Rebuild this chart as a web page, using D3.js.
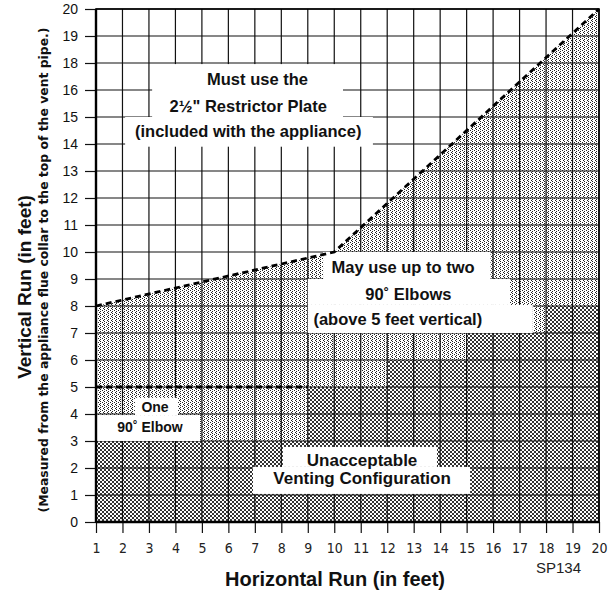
<!DOCTYPE html>
<html>
<head>
<meta charset="utf-8">
<script src="https://cdn.jsdelivr.net/npm/d3@7"></script>
<style>
  body { margin: 0; background: #fff; }
  text { font-family: 'Liberation Sans', Arial, sans-serif; }
</style>
</head>
<body>
<svg id="chart" width="614" height="600"></svg>
<script>
// x axis labels (feet)
const xTickLabels = ['1', '2', '3', '4', '5', '6', '7', '8', '9', '10',
  '11', '12', '13', '14', '15', '16', '17', '18', '19', '20'];
// y axis labels as printed on the chart (17 is skipped on the original)
const yTickLabels = ['0', '1', '2', '3', '4', '5', '6', '7', '8', '9', '10',
  '11', '12', '13', '14', '15', '16', '18', '19', '20'];

// boundaries, [horizontal run, vertical grid row]
const restrictorBoundary = [[1, 8], [10, 10], [20, 19]];
const oneElbowBoundary = [[1, 5], [9, 5]];
const unacceptableSteps = [[1, 3], [9, 5], [12, 6], [15, 7], [18, 8], [20, 8]];

const restrictorText = ['Must use the', '2\u00BD" Restrictor Plate', '(included with the appliance)'];
const twoElbowText = ['May use up to two', '90\u02DA Elbows', '(above 5 feet vertical)'];
const oneElbowText = ['One', '90\u02DA Elbow'];
const unacceptableText = ['Unacceptable', 'Venting Configuration'];

const margin = {top: 9, right: 15, bottom: 78, left: 96};
const width = 614 - margin.left - margin.right;
const height = 600 - margin.top - margin.bottom;

const svg = d3.select('#chart');

const defs = svg.append('defs');
const light = defs.append('pattern')
  .attr('id', 'light').attr('patternUnits', 'userSpaceOnUse')
  .attr('width', 4).attr('height', 4);
light.append('rect').attr('width', 4).attr('height', 4).attr('fill', '#fff');
[[0, 0], [2, 1], [0, 2], [3, 3]].forEach(p => {
  light.append('rect').attr('x', p[0]).attr('y', p[1]).attr('width', 1).attr('height', 1).attr('fill', '#222');
});

const dark = defs.append('pattern')
  .attr('id', 'dark').attr('patternUnits', 'userSpaceOnUse')
  .attr('width', 4).attr('height', 4);
dark.append('rect').attr('width', 4).attr('height', 4).attr('fill', '#fff');
dark.append('rect').attr('x', 0).attr('y', 0).attr('width', 2).attr('height', 2).attr('fill', '#333');
dark.append('rect').attr('x', 2).attr('y', 2).attr('width', 2).attr('height', 2).attr('fill', '#333');

const main = svg.append('g')
  .attr('transform', 'translate(' + margin.left + ',' + margin.top + ')');

const x = d3.scaleLinear().domain([1, 20]).range([0, width]);
const y = d3.scaleLinear().domain([0, yTickLabels.length - 1]).range([height, 0]);

// shaded regions
main.append('path')
  .datum(restrictorBoundary)
  .attr('fill', 'url(#light)')
  .attr('d', d3.area().x(d => x(d[0])).y0(y(0)).y1(d => y(d[1])));

main.append('path')
  .datum(unacceptableSteps)
  .attr('fill', 'url(#dark)')
  .attr('d', d3.area().curve(d3.curveStepAfter).x(d => x(d[0])).y0(y(0)).y1(d => y(d[1])));

// grid
main.append('g')
  .selectAll('line')
  .data(xTickLabels)
  .enter().append('line')
  .attr('x1', (d, i) => x(i + 1)).attr('x2', (d, i) => x(i + 1))
  .attr('y1', 0).attr('y2', height)
  .attr('stroke', '#111').attr('stroke-width', 1.2);

main.append('g')
  .selectAll('line')
  .data(yTickLabels)
  .enter().append('line')
  .attr('x1', 0).attr('x2', width)
  .attr('y1', (d, i) => y(i)).attr('y2', (d, i) => y(i))
  .attr('stroke', '#111').attr('stroke-width', 1.2);

// white label boxes: [x0, x1, y0, y1] in chart units
const boxes = [
  [3.12, 10.33, 15.0, 16.96], [2.1, 11.46, 13.9, 15.0],
  [9.58, 15.9, 9.0, 10.0], [9.0, 16.64, 8.04, 9.0], [9.0, 17.5, 7.0, 8.04],
  [2.47, 4.1, 3.96, 4.6], [1.04, 4.93, 3.0, 3.96],
  [8.06, 13.88, 2.04, 2.78], [6.93, 15.13, 1.04, 2.04]
];
main.append('g')
  .selectAll('rect')
  .data(boxes)
  .enter().append('rect')
  .attr('x', d => x(d[0])).attr('width', d => x(d[1]) - x(d[0]))
  .attr('y', d => y(d[3])).attr('height', d => y(d[2]) - y(d[3]))
  .attr('fill', '#fff');

// dashed boundaries
const line = d3.line().x(d => x(d[0])).y(d => y(d[1]));
[restrictorBoundary, oneElbowBoundary].forEach(b => {
  main.append('path')
    .datum(b)
    .attr('d', line)
    .attr('fill', 'none')
    .attr('stroke', '#000')
    .attr('stroke-width', 2.8)
    .attr('stroke-dasharray', '6,4');
});

// notes: text, x centre, baseline (chart units), size
const notes = [
  [restrictorText[0], 7.1, 16.19, 16.5],
  [restrictorText[1], 6.75, 15.19, 16.5],
  [restrictorText[2], 6.75, 14.27, 16.5],
  [twoElbowText[0], 12.6, 9.22, 16.5],
  [twoElbowText[1], 12.8, 8.22, 16.5],
  [twoElbowText[2], 12.4, 7.3, 16.5],
  [oneElbowText[0], 3.23, 4.07, 14],
  [oneElbowText[1], 3.04, 3.33, 14],
  [unacceptableText[0], 11.05, 2.07, 17],
  [unacceptableText[1], 11.05, 1.41, 17]
];
main.append('g')
  .selectAll('text')
  .data(notes)
  .enter().append('text')
  .attr('x', d => x(d[1]))
  .attr('y', d => y(d[2]))
  .attr('text-anchor', 'middle')
  .attr('font-weight', 'bold')
  .attr('font-size', d => d[3])
  .attr('fill', '#111')
  .text(d => d[0]);

// axes
const xAxis = d3.axisBottom(x)
  .tickValues(d3.range(1, 21))
  .tickFormat((d, i) => xTickLabels[i])
  .tickSize(11);
const gx = main.append('g')
  .attr('transform', 'translate(0,' + height + ')')
  .call(xAxis);
gx.select('.domain').remove();
gx.selectAll('line').attr('stroke', '#111').attr('stroke-width', 1.2);
gx.selectAll('text')
  .attr('y', 21)
  .attr('dy', '0.71em')
  .attr('fill', '#222')
  .style('font-family', "'Liberation Sans Narrow', 'DejaVu Sans Condensed', sans-serif")
  .style('font-size', '14px');

const yAxis = d3.axisLeft(y)
  .tickValues(d3.range(0, yTickLabels.length))
  .tickFormat((d, i) => yTickLabels[i])
  .tickSize(11)
  .tickPadding(7);
const gy = main.append('g').call(yAxis);
gy.select('.domain').remove();
gy.selectAll('line').attr('stroke', '#111').attr('stroke-width', 1.2);
gy.selectAll('text')
  .attr('fill', '#111')
  .style('font-family', "'Liberation Sans', Arial, sans-serif")
  .style('font-size', '14px');

// frame
main.append('rect')
  .attr('width', width).attr('height', height)
  .attr('fill', 'none').attr('stroke', '#000').attr('stroke-width', 1.6);
main.append('line')
  .attr('x1', 0).attr('x2', 0).attr('y1', 0).attr('y2', height)
  .attr('stroke', '#000').attr('stroke-width', 2.4);
main.append('line')
  .attr('x1', 0).attr('x2', width).attr('y1', height).attr('y2', height)
  .attr('stroke', '#000').attr('stroke-width', 2.4);

// titles
svg.append('text')
  .attr('x', 335).attr('y', 586)
  .attr('text-anchor', 'middle')
  .attr('font-weight', 'bold').attr('font-size', 20)
  .attr('fill', '#111')
  .text('Horizontal Run (in feet)');

svg.append('text')
  .attr('transform', 'translate(31,287) rotate(-90)')
  .attr('text-anchor', 'middle')
  .attr('font-weight', 'bold').attr('font-size', 19)
  .attr('fill', '#111')
  .text('Vertical Run (in feet)');

svg.append('text')
  .attr('transform', 'translate(48,270) rotate(-90)')
  .attr('text-anchor', 'middle')
  .attr('font-weight', 'bold').attr('font-size', 12.5)
  .attr('textLength', 485).attr('lengthAdjust', 'spacingAndGlyphs')
  .style('font-family', "'Liberation Sans Narrow', 'DejaVu Sans Condensed', sans-serif")
  .attr('fill', '#111')
  .text('(Measured from the appliance flue collar to the top of the vent pipe.)');

// drawing code, set just under the 18-19 labels
svg.append('text')
  .attr('x', 536).attr('y', 573)
  .attr('font-size', 15)
  .attr('fill', '#222')
  .text('SP134');
</script>
</body>
</html>
